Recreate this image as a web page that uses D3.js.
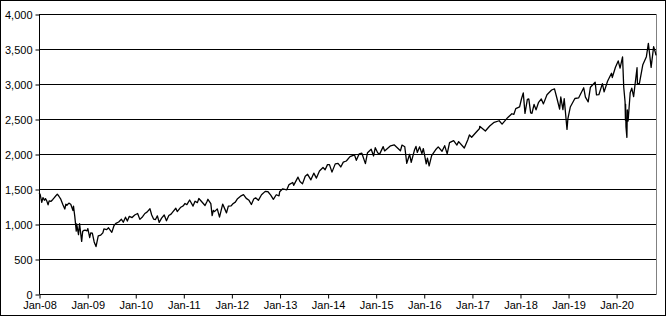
<!DOCTYPE html>
<html>
<head>
<meta charset="utf-8">
<script src="https://cdn.jsdelivr.net/npm/d3@7"></script>
<style>
  body { margin: 0; background: #fff; }
  svg { display: block; font-family: "Liberation Sans", Arial, sans-serif; }
</style>
</head>
<body>
<div id="chart"></div>
<script>
// Chart size
const width = 666;
const height = 316;
const margin = {top: 14, right: 10, bottom: 22, left: 39};

// Index level (approximate closes, with the main highs and lows)
const dates = [
  "2008-01-02","2008-01-10","2008-01-22","2008-01-31","2008-02-11","2008-02-19","2008-02-29","2008-03-10","2008-03-18","2008-03-31",
  "2008-04-15","2008-04-30","2008-05-19","2008-05-30","2008-06-13","2008-06-30","2008-07-15","2008-07-23","2008-07-31","2008-08-15",
  "2008-08-29","2008-09-15","2008-09-19","2008-09-29","2008-10-10","2008-10-13","2008-10-27","2008-11-04","2008-11-20","2008-11-28",
  "2008-12-08","2008-12-16","2008-12-31",
  "2009-01-06","2009-01-20","2009-01-28","2009-02-09","2009-02-23","2009-03-09","2009-03-26","2009-04-14","2009-04-30","2009-05-08",
  "2009-05-29","2009-06-12","2009-07-07","2009-07-24","2009-08-07","2009-08-28","2009-09-18","2009-10-02","2009-10-19","2009-11-02",
  "2009-11-17","2009-12-08","2009-12-28",
  "2010-01-19","2010-02-05","2010-02-26","2010-03-15","2010-03-31","2010-04-23","2010-05-06","2010-05-20","2010-06-04","2010-06-18",
  "2010-07-02","2010-07-20","2010-08-09","2010-08-26","2010-09-13","2010-09-30","2010-10-18","2010-11-05","2010-11-16","2010-12-13",
  "2010-12-31",
  "2011-01-14","2011-01-28","2011-02-18","2011-03-16","2011-03-31","2011-04-18","2011-04-29","2011-05-16","2011-06-15","2011-06-30",
  "2011-07-07","2011-07-29","2011-08-08","2011-08-17","2011-08-26","2011-09-16","2011-10-03","2011-10-27","2011-11-25","2011-12-09",
  "2011-12-30",
  "2012-01-13","2012-01-31","2012-02-17","2012-03-15","2012-04-02","2012-04-23","2012-05-14","2012-06-01","2012-06-19","2012-07-03",
  "2012-07-24","2012-08-17","2012-09-14","2012-10-05","2012-10-26","2012-11-15","2012-12-07","2012-12-28",
  "2013-01-02","2013-01-25","2013-02-25","2013-03-14","2013-04-11","2013-04-18","2013-05-21","2013-06-05","2013-06-24","2013-07-15",
  "2013-08-02","2013-08-27","2013-09-18","2013-10-08","2013-10-31","2013-11-27","2013-12-13","2013-12-31",
  "2014-01-15","2014-02-03","2014-02-28","2014-03-21","2014-04-11","2014-04-30","2014-05-23","2014-06-20","2014-07-24","2014-08-07",
  "2014-08-29","2014-09-18","2014-10-15","2014-10-31","2014-11-28","2014-12-16","2014-12-29",
  "2015-01-16","2015-01-30","2015-02-27","2015-03-10","2015-04-24","2015-05-21","2015-06-12","2015-07-08","2015-07-20","2015-08-10",
  "2015-08-25","2015-09-16","2015-09-28","2015-10-22","2015-11-03","2015-11-13","2015-12-01","2015-12-18","2015-12-29",
  "2016-01-20","2016-01-29","2016-02-11","2016-03-01","2016-03-31","2016-04-20","2016-05-19","2016-06-08","2016-06-27","2016-07-15",
  "2016-08-15","2016-09-09","2016-09-22","2016-11-04","2016-11-30","2016-12-13","2016-12-30",
  "2017-01-26","2017-02-28","2017-03-01","2017-04-13","2017-05-16","2017-06-19","2017-07-27","2017-08-18","2017-09-29","2017-10-31",
  "2017-11-15","2017-11-30","2017-12-29",
  "2018-01-12","2018-01-26","2018-02-08","2018-02-26","2018-03-09","2018-03-23","2018-04-02","2018-04-18","2018-05-03","2018-05-21",
  "2018-06-12","2018-06-28","2018-07-25","2018-08-29","2018-09-20","2018-10-10","2018-10-29","2018-11-07","2018-11-23","2018-12-03",
  "2018-12-24","2018-12-31",
  "2019-01-18","2019-02-22","2019-03-22","2019-04-30","2019-05-13","2019-06-03","2019-06-20","2019-07-26","2019-08-05","2019-08-23",
  "2019-09-19","2019-10-02","2019-10-28","2019-11-27","2019-12-03","2019-12-27",
  "2020-01-17","2020-01-31","2020-02-19","2020-02-28","2020-03-09","2020-03-12","2020-03-13","2020-03-16","2020-03-23","2020-03-26",
  "2020-04-01","2020-04-17","2020-04-29","2020-05-13","2020-06-08","2020-06-11","2020-06-26","2020-07-22","2020-08-18","2020-09-02",
  "2020-09-23","2020-10-12","2020-10-23","2020-10-30"
];

const closes = [
  1447,1420,1310,1378,1339,1362,1330,1273,1330,1322,
  1351,1385,1426,1400,1360,1280,1214,1282,1267,1298,
  1283,1193,1255,1106,899,1003,848,1006,752,896,
  909,913,903,
  935,806,874,869,743,677,832,842,873,929,
  919,946,881,979,1010,1029,1068,1025,1097,1042,
  1110,1092,1128,
  1150,1066,1104,1150,1169,1217,1128,1071,1064,1117,
  1022,1083,1128,1047,1121,1141,1184,1225,1178,1240,
  1258,
  1293,1276,1343,1256,1326,1305,1364,1329,1265,1321,
  1353,1292,1119,1193,1177,1216,1099,1285,1159,1255,
  1258,
  1289,1312,1361,1402,1419,1366,1338,1278,1357,1374,
  1338,1418,1466,1461,1412,1353,1418,1402,
  1462,1503,1488,1563,1593,1552,1669,1608,1573,1682,
  1710,1631,1726,1656,1757,1807,1775,1848,
  1848,1741,1859,1866,1815,1884,1900,1962,1988,1910,
  2003,2011,1862,2018,2068,1972,2090,
  2019,1995,2105,2044,2117,2131,2094,2047,2128,2104,
  1867,1996,1881,2052,2109,2023,2102,2005,2078,
  1859,1940,1829,1978,2060,2102,2040,2119,2001,2162,
  2190,2128,2177,2085,2199,2272,2239,
  2297,2364,2396,2329,2400,2453,2475,2426,2519,2575,
  2565,2648,2674,
  2786,2873,2581,2780,2787,2588,2582,2709,2630,2733,
  2787,2716,2846,2914,2931,2786,2641,2814,2633,2790,
  2351,2507,
  2671,2793,2801,2946,2812,2744,2954,3026,2844,2847,
  3006,2887,3040,3154,3093,3240,
  3330,3226,3386,2954,2747,2481,2711,2386,2237,2630,
  2471,2875,2940,2820,3232,3002,3009,3276,3390,3580,
  3237,3534,3465,3410
];

// Axis ticks
const yTicks = [0, 500, 1000, 1500, 2000, 2500, 3000, 3500, 4000];
const xTickLabels = ["Jan-08","Jan-09","Jan-10","Jan-11","Jan-12","Jan-13","Jan-14","Jan-15","Jan-16","Jan-17","Jan-18","Jan-19","Jan-20"];

const parse = d3.timeParse("%Y-%m-%d");
const series = dates.map((d, i) => ({date: parse(d), value: closes[i]}));

const svg = d3.select("#chart").append("svg")
    .attr("width", width)
    .attr("height", height);

// outer frame
svg.append("rect")
    .attr("x", 0.5).attr("y", 0.5)
    .attr("width", width - 1).attr("height", height - 1)
    .attr("fill", "#fff")
    .attr("stroke", "#000");

const x = d3.scaleTime()
    .domain([new Date(2008, 0, 1), d3.max(series, d => d.date)])
    .range([margin.left, width - margin.right]);

const y = d3.scaleLinear()
    .domain([0, 4000])
    .range([height - margin.bottom, margin.top]);

// plot area right border
svg.append("line")
    .attr("x1", Math.round(x.range()[1]) + 0.5).attr("x2", Math.round(x.range()[1]) + 0.5)
    .attr("y1", margin.top).attr("y2", height - margin.bottom)
    .attr("stroke", "#808080");

// gridlines
svg.append("g")
    .selectAll("line")
    .data(yTicks.filter(d => d > 0))
    .join("line")
    .attr("x1", margin.left)
    .attr("x2", Math.round(x.range()[1]))
    .attr("y1", d => Math.round(y(d)) + 0.5)
    .attr("y2", d => Math.round(y(d)) + 0.5)
    .attr("stroke", "#000");

// y axis
const yAxis = svg.append("g")
    .attr("transform", `translate(${margin.left + 0.5},0.5)`)
    .call(d3.axisLeft(y).tickValues(yTicks).tickSize(4).tickPadding(3).tickFormat(d3.format(",")));
yAxis.select(".domain").attr("d", `M0,${Math.round(y(4000))}V${Math.round(y(0))}`);
yAxis.selectAll("text").style("font-size", "11px").attr("fill", "#000");
yAxis.selectAll("line, path").attr("stroke", "#000");

// x axis
const xTickDates = xTickLabels.map((d, i) => new Date(2008 + i, 0, 1));
const xAxis = svg.append("g")
    .attr("transform", `translate(0.5,${Math.round(y(0)) + 0.5})`)
    .call(d3.axisBottom(x).tickValues(xTickDates).tickSize(4).tickPadding(3)
        .tickFormat((d, i) => xTickLabels[i]));
xAxis.select(".domain").attr("d", `M${margin.left},0H${Math.round(x.range()[1])}`);
xAxis.selectAll("text").style("font-size", "11px").attr("fill", "#000");
xAxis.selectAll("line, path").attr("stroke", "#000");

// price line
svg.append("path")
    .datum(series)
    .attr("fill", "none")
    .attr("stroke", "#000")
    .attr("stroke-width", 1.3)
    .attr("stroke-linejoin", "round")
    .attr("d", d3.line().x(d => x(d.date)).y(d => y(d.value)));
</script>
</body>
</html>
